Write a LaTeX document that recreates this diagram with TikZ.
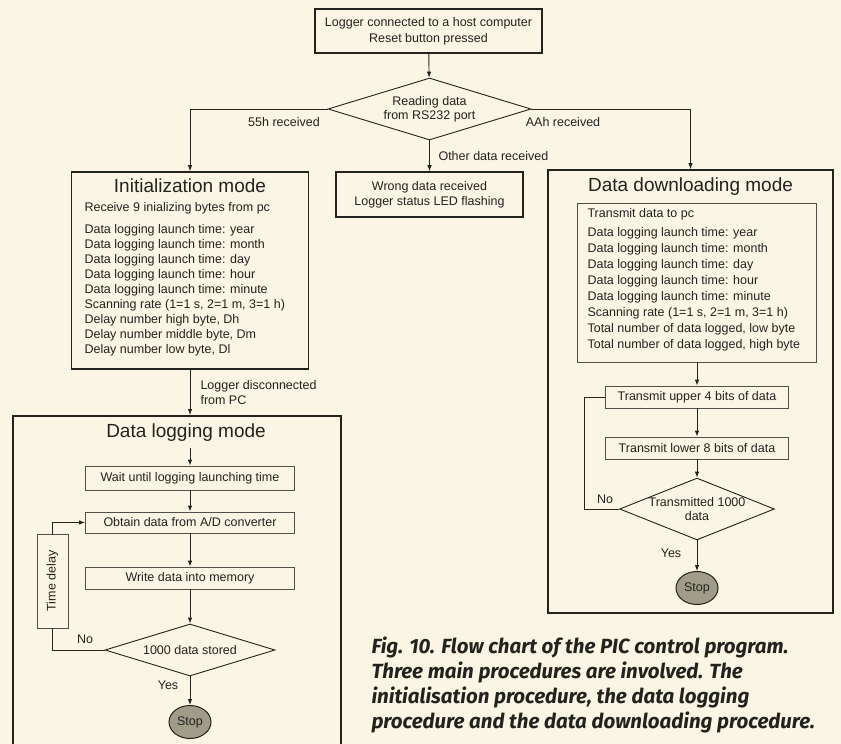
\documentclass[tikz,border=0pt]{standalone}
\usepackage{fontspec}
\setmainfont{Liberation Sans}
\newfontfamily\capfont{Fira Sans}
\usetikzlibrary{shapes.geometric,arrows.meta}
\definecolor{bgc}{RGB}{250,245,228}
\definecolor{ink}{RGB}{35,35,30}
\definecolor{stopc}{RGB}{160,156,138}
\begin{document}
\begin{tikzpicture}[x=1pt,y=-1pt,
  every node/.style={font=\fontsize{12.5}{15}\selectfont, text=ink},
  bigbox/.style={draw=ink, line width=1.6pt, inner sep=0pt, rectangle},
  smallbox/.style={draw=ink!80, line width=0.8pt, inner sep=0pt, rectangle},
  dia/.style={draw=ink, line width=0.9pt, diamond, inner sep=0pt, align=center},
  arr/.style={draw=ink, line width=0.9pt, -{Latex[length=6pt,width=4.5pt]}},
  ln/.style={draw=ink, line width=0.9pt},
  title/.style={font=\fontsize{19}{22}\selectfont},
  items/.style={anchor=west, align=left},
  stopn/.style={ellipse, draw=ink, line width=1pt, fill=stopc, minimum width=42pt, minimum height=33pt, inner sep=0pt},
  captext/.style={anchor=west, font=\capfont\bfseries\itshape\fontsize{20.5}{24}\selectfont}
]
\fill[bgc] (0,0) rectangle (841,744);
\useasboundingbox (0,0) rectangle (841,744);

% top
\node[bigbox, minimum width=227pt, minimum height=44pt, align=center, font=\fontsize{12.5}{16}\selectfont] (start) at (428.5,31) {Logger connected to a host computer\\Reset button pressed};
\node[dia, minimum width=203pt, minimum height=62pt, aspect=3.27, font=\fontsize{12.5}{14}\selectfont] (read) at (429.5,109) {Reading data\\from RS232 port};
\node[bigbox, minimum width=187pt, minimum height=45pt, align=center] (wrong) at (429.5,194.5) {Wrong data received\\Logger status LED flashing};

% initialization
\node[bigbox, minimum width=237pt, minimum height=197pt] (init) at (190,270.5) {};
\node[title] (initT) at (190,186) {Initialization mode};
\node[items] (initR) at (81,208) {Receive 9 inializing bytes from pc};
\node[items] (initL) at (81,290) {Data logging launch time: year\\Data logging launch time: month\\Data logging launch time: day\\Data logging launch time: hour\\Data logging launch time: minute\\Scanning rate (1=1 s, 2=1 m, 3=1 h)\\Delay number high byte, Dh\\Delay number middle byte, Dm\\Delay number low byte, Dl};

% data logging
\node[bigbox, minimum width=328pt, minimum height=360pt, anchor=north] (log) at (177,415) {};
\node[title] (logT) at (186,433) {Data logging mode};
\coordinate (logS) at (190,448);
\node[smallbox, minimum width=209pt, minimum height=24pt] (wait) at (190,478) {Wait until logging launching time};
\node[smallbox, minimum width=209pt, minimum height=21pt] (obt) at (190,522.5) {Obtain data from A/D converter};
\node[smallbox, minimum width=209pt, minimum height=22pt] (wr) at (190,578) {Write data into memory};
\node[dia, minimum width=170pt, minimum height=52pt, aspect=3.27] (st) at (190,650) {1000 data stored};
\node[stopn] (stop1) at (190,722) {Stop};
\node[smallbox, minimum width=31pt, minimum height=94pt] (td) at (52.5,581) {};
\node[rotate=90] (tdT) at (td.center) {Time delay};

% data downloading
\node[bigbox, minimum width=285pt, minimum height=443pt] (dl) at (690.5,391.5) {};
\node[title] (dlT) at (690.5,187) {Data downloading mode};
\node[smallbox, minimum width=239pt, minimum height=159pt] (tx) at (697,282.5) {};
\node[items] (txR) at (584,214) {Transmit data to pc};
\node[items, font=\fontsize{12.5}{16}\selectfont] (txL) at (584,289) {Data logging launch time: year\\Data logging launch time: month\\Data logging launch time: day\\Data logging launch time: hour\\Data logging launch time: minute\\Scanning rate (1=1 s, 2=1 m, 3=1 h)\\Total number of data logged, low byte\\Total number of data logged, high byte};
\node[smallbox, minimum width=183pt, minimum height=22pt] (up) at (697,397) {Transmit upper 4 bits of data};
\node[smallbox, minimum width=183pt, minimum height=22pt] (lo) at (697,448) {Transmit lower 8 bits of data};
\node[dia, minimum width=150pt, minimum height=60pt, aspect=2.5, font=\fontsize{12.5}{14}\selectfont] (txd) at (697,509) {Transmitted 1000\\data};
\node[stopn] (stop2) at (697,588) {Stop};

% connectors
\draw[arr] (start) -- (read);
\draw[arr] (read.west) -| (init.north);
\draw[arr] (read.east) -| (dl.north);
\draw[arr] (read.south) -- (wrong.north);
\draw[arr] (init.south) -- (init.south |- log.north);
\draw[arr] (logS) -- (wait);
\draw[arr] (wait) -- (obt);
\draw[arr] (obt) -- (wr);
\draw[arr] (wr) -- (st);
\draw[arr] (st) -- (stop1);
\draw[ln] (st.west) -| (td.south);
\draw[arr] (td.north) |- (obt.west);
\draw[arr] (tx.south) -- (up.north);
\draw[arr] (up) -- (lo);
\draw[arr] (lo) -- (txd);
\draw[arr] (txd) -- (stop2);
\draw[ln] (txd.west) -- ++(-35,0) |- (up.west);

% labels
\node (l55) at (284,122) {55h received};
\node (lAA) at (563,122) {AAh received};
\node[anchor=west] (lOther) at (435,156) {Other data received};
\node[anchor=west, align=left] (lDisc) at (197,393) {Logger disconnected\\from PC};
\node (lNo2) at (605,499) {No};
\node (lYes2) at (671,553) {Yes};
\node (lNo1) at (85,639) {No};
\node (lYes1) at (168,685) {Yes};

% caption
\node[captext] (c1) at (368,647) {Fig. 10. Flow chart of the PIC control program.};
\node[captext] (c2) at (368,672) {Three main procedures are involved. The};
\node[captext] (c3) at (368,697) {initialisation procedure, the data logging};
\node[captext] (c4) at (368,722) {procedure and the data downloading procedure.};
\end{tikzpicture}
\end{document}
